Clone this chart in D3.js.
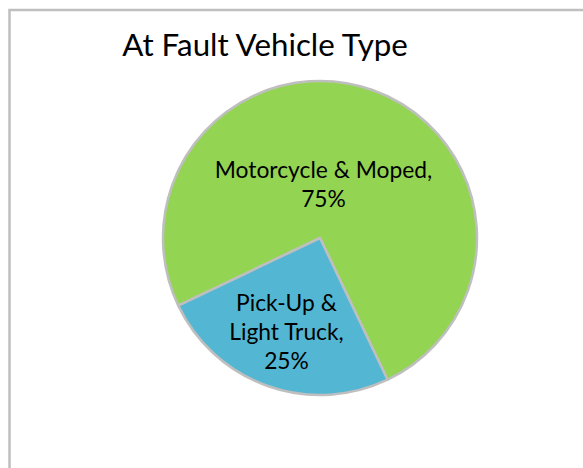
<!DOCTYPE html>
<html>
<head>
<meta charset="utf-8">
<script src="https://cdn.jsdelivr.net/npm/d3@7"></script>
<style>
  body { margin: 0; background: #ffffff; }
  text { font-family: Lato, "Noto Sans", sans-serif; fill: #000000; }
</style>
</head>
<body>
<div id="chart"></div>
<script>
'use strict';

// chart data
const title = "At Fault Vehicle Type";
const categories = ["Motorcycle & Moped", "Pick-Up & Light Truck"];
const values = [75, 25];
const labelLines = [
  ["Motorcycle & Moped,", "75%"],
  ["Pick-Up &", "Light Truck,", "25%"]
];
const colors = ["#93d552", "#53b7d3"];

const W = 583, H = 468;
const cx = 320, cy = 238, radius = 157;
// where excel put the data labels (middle baseline), relative to pie centre
const labelAt = [[3.5, -45.5], [-33.5, 102]];
const lineH = 28.7;

const svg = d3.select("#chart")
  .append("svg")
  .attr("width", W)
  .attr("height", H);

// chart area frame (runs off the right / bottom of the picture)
svg.append("rect")
  .attr("x", 9.5)
  .attr("y", 10)
  .attr("width", 600)
  .attr("height", 500)
  .style("fill", "#ffffff")
  .style("stroke", "#bfbfbf")
  .style("stroke-width", 2.5);

svg.append("text")
  .attr("x", 265)
  .attr("y", 56)
  .attr("text-anchor", "middle")
  .style("font-size", "31.3px")
  .text(title);

const rot = 244.5 * Math.PI / 180;
const pie = d3.pie()
  .sort(null)
  .startAngle(rot)
  .endAngle(rot + 2 * Math.PI);

const arc = d3.arc()
  .innerRadius(0)
  .outerRadius(radius);

const slices = pie(values);

const g = svg.append("g")
  .attr("transform", `translate(${cx},${cy})`);

g.selectAll(".slice")
  .data(slices)
  .enter().append("path")
  .attr("class", "slice")
  .attr("d", arc)
  .style("fill", (d, i) => colors[i])
  .style("stroke", "#bfbfbf")
  .style("stroke-width", 2.5)
  .style("stroke-linejoin", "round");

// data labels
const labels = g.selectAll(".label")
  .data(slices)
  .enter().append("text")
  .attr("class", "label")
  .attr("text-anchor", "middle")
  .style("font-size", "22.8px");

labels.each(function (d, i) {
  const lines = labelLines[i];
  const top = labelAt[i][1] - (lines.length - 1) * lineH / 2;
  d3.select(this).selectAll("tspan")
    .data(lines)
    .enter().append("tspan")
    .attr("x", labelAt[i][0])
    .attr("y", (t, k) => top + k * lineH)
    .text(t => t);
});
</script>
</body>
</html>
